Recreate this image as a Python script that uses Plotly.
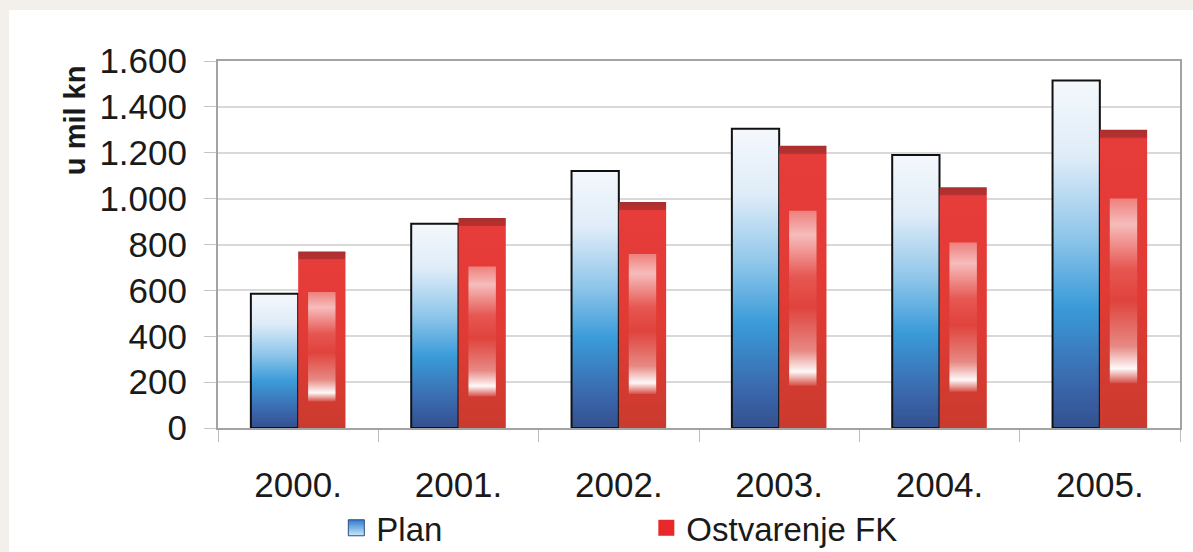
import plotly.graph_objects as go

years = ["2000.", "2001.", "2002.", "2003.", "2004.", "2005."]
plan = [585, 890, 1120, 1305, 1190, 1515]
ostvarenje = [770, 915, 985, 1230, 1050, 1300]
series_names = ["Plan", "Ostvarenje FK"]
y_title = "u mil kn"

FONT = "Liberation Sans, Arial, sans-serif"
BAR_W = 0.295
CAP = 32  # darker top cap thickness, in axis units

plan_scale = [[0, "#33508e"], [0.12, "#3a66ab"], [0.35, "#3b9bd9"],
              [0.55, "#8fc6ea"], [0.78, "#dfecf8"], [1, "#f4f8fc"]]
glow_scale = [[0, "rgba(255,255,255,0.1)"], [0.08, "rgba(255,255,255,0.97)"],
              [0.2, "rgba(255,255,255,0.4)"], [0.45, "rgba(255,255,255,0.04)"],
              [0.62, "rgba(255,255,255,0.14)"], [0.86, "rgba(255,255,255,0.66)"],
              [1, "rgba(255,255,255,0.35)"]]

fig = go.Figure()

for i, v in enumerate(plan):
    x0, x1 = i - BAR_W, i
    fig.add_trace(go.Scatter(
        x=[x0, x0, x1, x1, x0], y=[0, v, v, 0, 0], mode="lines",
        fill="toself", line=dict(color="#111111", width=2),
        fillgradient=dict(type="vertical", colorscale=plan_scale, start=0, stop=v),
        showlegend=False, hoverinfo="skip"))

for i, v in enumerate(ostvarenje):
    x0, x1 = i, i + BAR_W
    c = 1 - CAP / v
    ost_scale = [[0, "#cb3a2e"], [0.5, "#e23b35"], [c - 0.005, "#e63c3a"],
                 [c, "#b53131"], [1, "#aa2f2f"]]
    fig.add_trace(go.Scatter(
        x=[x0, x0, x1, x1, x0], y=[0, v, v, 0, 0], mode="lines",
        fill="toself", line=dict(width=0, color="rgba(0,0,0,0)"),
        fillgradient=dict(type="vertical", colorscale=ost_scale, start=0, stop=v),
        showlegend=False, hoverinfo="skip"))
    gx0, gx1 = i + BAR_W * 0.21, i + BAR_W * 0.79
    gy0, gy1 = v * 0.15, v * 0.77
    fig.add_trace(go.Scatter(
        x=[gx0, gx0, gx1, gx1, gx0], y=[gy0, gy1, gy1, gy0, gy0], mode="lines",
        fill="toself", line=dict(width=0, color="rgba(0,0,0,0)"),
        fillgradient=dict(type="vertical", colorscale=glow_scale, start=gy0, stop=gy1),
        showlegend=False, hoverinfo="skip"))

# legend entries
fig.add_trace(go.Scatter(x=[None], y=[None], name=series_names[0], xaxis="x2", mode="markers",
                         marker=dict(symbol="square", size=16, color="#2f7ccc",
                                     gradient=dict(type="vertical", color="#c9e8fa"),
                                     line=dict(color="#2d4a86", width=1))))
fig.add_trace(go.Scatter(x=[None], y=[None], name=series_names[1], xaxis="x2", mode="markers",
                         marker=dict(symbol="square", size=16, color="#e8282a",
                                     line=dict(width=0))))

n = len(years)
fig.update_layout(
    width=1193, height=552,
    margin=dict(l=218, r=13, t=61, b=124, autoexpand=False),
    paper_bgcolor="#f3f0ec",
    plot_bgcolor="#ffffff",
    separators=",.",
    font=dict(family=FONT, color="#1a1a1a", size=33),
    showlegend=True,
    legend=dict(orientation="h", x=0.123, y=-0.272, xanchor="left", yanchor="middle",
                font=dict(size=33, family=FONT), entrywidth=265, entrywidthmode="pixels",
                bgcolor="rgba(0,0,0,0)", itemsizing="trace"),
    xaxis=dict(range=[-0.5, n - 0.5], tickvals=[k - 0.5 for k in range(n + 1)],
               showticklabels=False, ticks="outside", ticklen=12, tickcolor="#bdbdbd",
               showgrid=False, zeroline=False, showline=True, mirror=True,
               linecolor="#a3a3a3", linewidth=2, automargin=False),
    xaxis2=dict(range=[-0.5, n - 0.5], overlaying="x", anchor="y", side="bottom",
                tickvals=list(range(n)), ticktext=years, ticks="", showgrid=False,
                zeroline=False, showline=False, ticklabelstandoff=33, automargin=False,
                tickfont=dict(size=35, family=FONT)),
    yaxis=dict(range=[0, 1600], dtick=200, tickformat=",d", ticks="outside", ticklen=12,
               tickcolor="#c4c4c4", gridcolor="#d9d9d9", gridwidth=1.5, zeroline=False,
               showline=True, mirror=True, linecolor="#a3a3a3", linewidth=2,
               tickfont=dict(size=35, family=FONT), ticklabelstandoff=10, automargin=False),
    annotations=[dict(text="<b>" + y_title + "</b>", textangle=-90, xref="paper", yref="paper",
                      x=-0.1486, y=0.839, xanchor="center", yanchor="middle", showarrow=False,
                      font=dict(size=29, family=FONT, color="#1a1a1a"))],
    shapes=[dict(type="rect", xref="paper", yref="paper", x0=-0.2173, x1=1.05,
                 y0=-0.4, y1=1.139, fillcolor="#ffffff", line=dict(width=0), layer="below")],
)

fig.write_html("out.html", config={"displayModeBar": False},
               post_script="document.body.style.margin='0';document.body.style.background='#f3f0ec';")
